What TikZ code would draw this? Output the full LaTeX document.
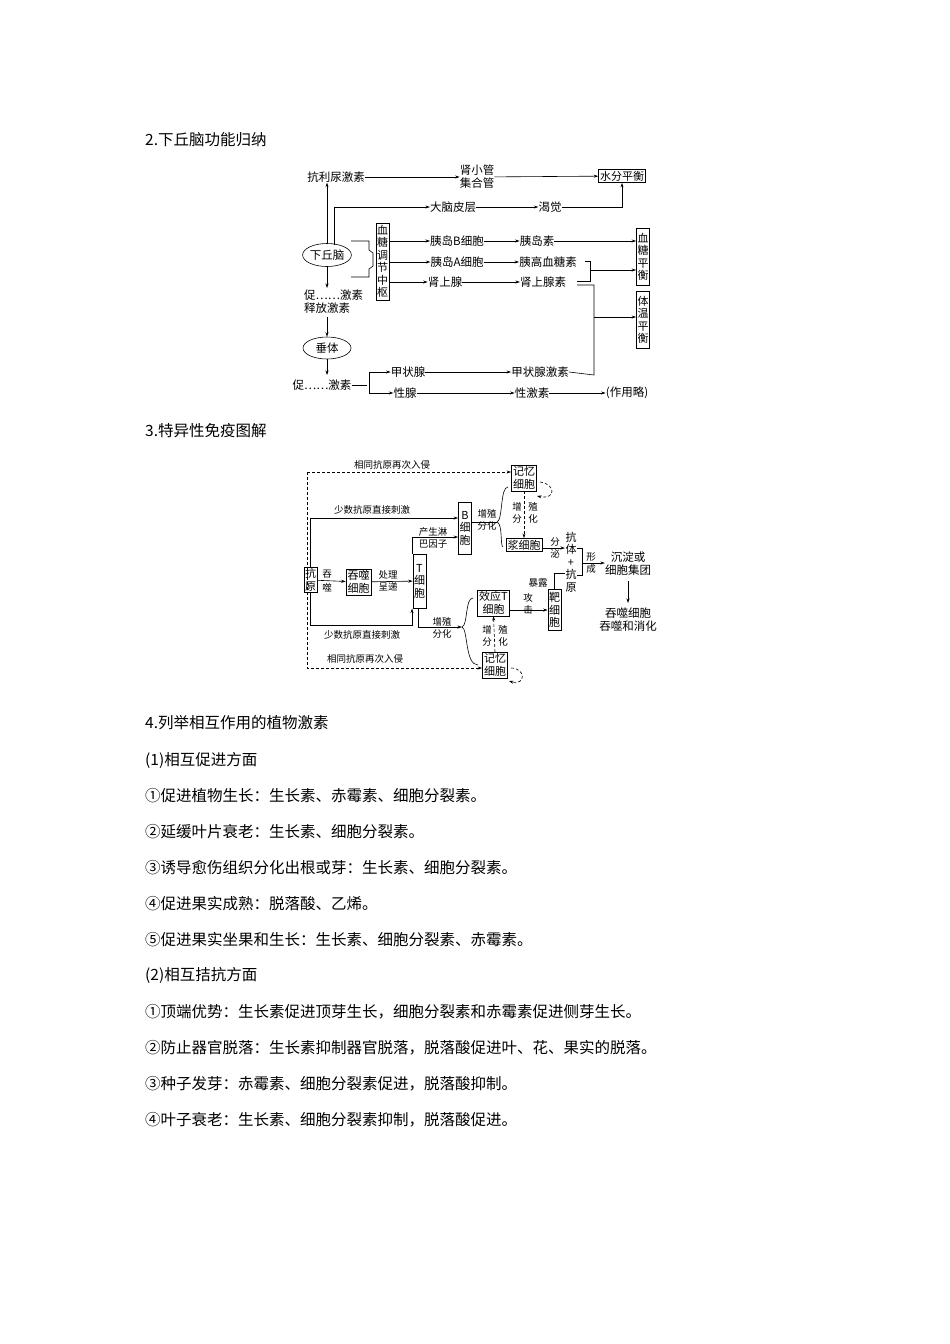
\documentclass[tikz,border=0pt]{standalone}
\usepackage{fontspec}
\setmainfont{Noto Sans CJK SC}
\usetikzlibrary{arrows.meta,shapes.geometric}
\begin{document}
\begin{tikzpicture}[x=1pt,y=-1pt,
  a/.style={-{Stealth[length=4.5pt,width=3pt]},line width=0.6pt},
  l/.style={line width=0.6pt},
  da/.style={a,dashed,dash pattern=on 3pt off 2pt},
  t/.style={inner sep=0pt,font=\fontsize{11.5}{13}\selectfont,align=center},
  s/.style={inner sep=0pt,font=\fontsize{9.5}{11.5}\selectfont,align=center},
  bx/.style={draw,line width=0.6pt,inner sep=1.5pt,font=\fontsize{11}{12.5}\selectfont,align=center},
  body/.style={inner sep=0pt,anchor=west,font=\fontsize{15.5}{18}\selectfont}]
\useasboundingbox (0,0) rectangle (950,1344);
\fill[white] (0,0) rectangle (950,1344);
% headings
\node[body] (h2) at (145,140) {2.下丘脑功能归纳};
\node[body] (h3) at (145,431) {3.特异性免疫图解};
\node[body] (h4) at (145,723) {4.列举相互作用的植物激素};
\node[body] (p1) at (145,760) {(1)相互促进方面};
\node[body] (p2) at (145,796) {①促进植物生长：生长素、赤霉素、细胞分裂素。};
\node[body] (p3) at (145,832) {②延缓叶片衰老：生长素、细胞分裂素。};
\node[body] (p4) at (145,868) {③诱导愈伤组织分化出根或芽：生长素、细胞分裂素。};
\node[body] (p5) at (145,904) {④促进果实成熟：脱落酸、乙烯。};
\node[body] (p6) at (145,940) {⑤促进果实坐果和生长：生长素、细胞分裂素、赤霉素。};
\node[body] (p7) at (145,975) {(2)相互拮抗方面};
\node[body] (p8) at (145,1012) {①顶端优势：生长素促进顶芽生长，细胞分裂素和赤霉素促进侧芽生长。};
\node[body] (p9) at (145,1048) {②防止器官脱落：生长素抑制器官脱落，脱落酸促进叶、花、果实的脱落。};
\node[body] (p10) at (145,1084) {③种子发芽：赤霉素、细胞分裂素促进，脱落酸抑制。};
\node[body] (p11) at (145,1120) {④叶子衰老：生长素、细胞分裂素抑制，脱落酸促进。};

% ===== diagram 1 =====
\node[t] (adh) at (336,177) {抗利尿激素};
\node[t] (sxg) at (477,177) {肾小管\\集合管};
\node[bx] (sfph) at (622,176) {水分平衡};
\node[draw,ellipse,l,t,minimum width=48pt,minimum height=23pt] (xqn) at (327,255) {下丘脑};
\node[t] (dnpc) at (453,207) {大脑皮层};
\node[t] (kj) at (550,207) {渴觉};
\node[bx,minimum height=77pt,inner sep=1pt] (xt) at (382.5,261.5) {血\\糖\\调\\节\\中\\枢};
\node[t] (ydb) at (457,241) {胰岛B细胞};
\node[t] (yda) at (457,262) {胰岛A细胞};
\node[t] (ssx) at (445,282) {肾上腺};
\node[t] (yds) at (537,241) {胰岛素};
\node[t] (ygxts) at (548,262) {胰高血糖素};
\node[t] (ssxs) at (543,282) {肾上腺素};
\node[bx,minimum height=57pt,inner sep=1pt] (xtph) at (643,257) {血\\糖\\平\\衡};
\node[bx,minimum height=57pt,inner sep=1pt] (twph) at (643,320) {体\\温\\平\\衡};
\node[t,align=left,anchor=west] (cjs) at (304,302) {促……激素\\释放激素};
\node[draw,ellipse,l,t,minimum width=48pt,minimum height=22pt] (ct) at (327,348) {垂体};
\node[t] (cjs2) at (322,385) {促……激素};
\node[t] (jzx) at (408,372) {甲状腺};
\node[t] (xx) at (405,393) {性腺};
\node[t] (jzxjs) at (540,372) {甲状腺激素};
\node[t] (xjs) at (532,393) {性激素};
\node[t] (zyl) at (627,393) {(作用略)};

\draw[a] (adh) -- (sxg);
\draw[a] (sxg) -- (sfph);
\draw[a] (327,244) -- (adh.south -| 327,0);
\draw[a] (334,245) |- (dnpc.west);
\draw[a] (dnpc) -- (kj);
\draw[a] (kj.east) -| (sfph.south);
\draw[l] (351,241) -- (369,241) -- (369,250) -- (373,253) -- (373,266) -- (369,269) -- (369,277) -- (351,277);
\draw[a] (xt.east |- ydb) -- (ydb.west);
\draw[a] (xt.east |- yda) -- (yda.west);
\draw[a] (xt.east |- ssx) -- (ssx.west);
\draw[a] (ydb) -- (yds);
\draw[a] (yda) -- (ygxts);
\draw[a] (ssx) -- (ssxs);
\draw[a] (yds) -- (xtph.west |- yds);
\draw[l] (585,261) -- (590,261) -- (590,281) -- (577,281);
\draw[a] (590,270) -- (xtph.west |- 0,270);
\draw[l] (577,285) -- (594,285) -- (594,375) -- (jzxjs.east);
\draw[a] (594,317) -- (twph.west |- 0,317);
\draw[a] (xqn.south) -- (327,288);
\draw[a] (327,317) -- (ct.north);
\draw[a] (ct.south) -- (327,375);
\draw[l] (cjs2.east) -- (367,385);
\draw[a] (369,385) |- (jzx.west);
\draw[a] (369,385) |- (xx.west);
\draw[a] (jzx) -- (jzxjs);
\draw[a] (xx) -- (xjs);
\draw[a] (xjs) -- (zyl);

% ===== diagram 2 =====
\node[bx,inner sep=1pt] (ky) at (310.5,580) {抗\\原};
\node[bx] (tsxb) at (358.5,582) {吞噬\\细胞};
\node[bx,minimum height=54pt,inner sep=1pt] (txb) at (419.5,581) {T\\细\\胞};
\node[bx,minimum height=52pt,inner sep=1pt] (bxb) at (465,528) {B\\细\\胞};
\node[bx] (jy1) at (524,478) {记忆\\细胞};
\node[bx] (jxb) at (524,545) {浆细胞};
\node[bx] (xyt) at (493.5,603) {效应T\\细胞};
\node[bx,minimum height=41pt,inner sep=1pt] (bb) at (554.5,610) {靶\\细\\胞};
\node[bx] (jy2) at (495,665) {记忆\\细胞};
\node[s,font=\fontsize{11}{12.5}\selectfont,inner sep=0pt] (ktky) at (571,562) {抗\\体\\+\\抗\\原};
\node[t] (cd) at (628,564) {沉淀或\\细胞集团};
\node[t] (tsxh) at (628,620) {吞噬细胞\\吞噬和消化};
\coordinate (dtl) at (307,472);
\coordinate (dbl) at (307,668);

\node[s] at (327,581) {吞\\[2pt]噬};
\draw[a] (ky) -- (tsxb);
\node[s] at (388,581) {处理\\呈递};
\draw[a] (tsxb) -- (txb);
\draw[a] (ky.north) |- (bxb.west |- 0,518);
\node[s] at (372,510) {少数抗原直接刺激};
\draw[a] (412,554) |- (bxb.west |- 0,537);
\node[s] at (433,538) {产生淋\\巴因子};
\draw[a] (ky.south) |- (412,625) -- (412,608.5);
\node[s] at (362,635) {少数抗原直接刺激};
\draw[da] (dtl) |- (dbl) -- (jy2.west |- dbl);
\draw[da] (dtl) -- (jy1.west |- dtl);
\node[s] at (392,465) {相同抗原再次入侵};
\node[s] at (365,659) {相同抗原再次入侵};
% B -> brace
\draw[l] (bxb.east |- 0,522) -- (497,522);
\node[s] at (487,520) {增殖\\分化};
\draw[l] (508,487) .. controls (500,487) and (503,520) .. (497,522) .. controls (503,524) and (500,547) .. (503,547);
\draw[da] (jy1.south) -- (jxb.north);
\node[s] at (517,513) {增\\分};
\node[s] at (533,513) {殖\\化};
\draw[da] (540,482) .. controls (556,484) and (556,500) .. (537,496);
\draw[a] (jxb.east |- 0,548) -- (565,548);
\node[s] at (555,548) {分\\泌};
\draw[l] (577,548) -- (582,548) -- (582,575) -- (577,575);
\draw[a] (582,563) -- (cd.west |- 0,563);
\node[s] at (591,563) {形\\成};
\draw[a] (628,581) -- (628,603);
\draw[l] (bb.north) |- (565,573);
\node[s] at (538,583) {暴露};
\draw[a] (xyt.east |- bb) -- (bb.west);
\node[s] at (528,604) {攻\\击};
\draw[a] (418,608.5) |- (462,627);
\node[s] at (442,628) {增殖\\分化};
\draw[l] (473,598) .. controls (465,598) and (468,625) .. (462,627) .. controls (468,629) and (465,665) .. (478,665);
\draw[da] (jy2.north) -- (xyt.south);
\node[s] at (487,636) {增\\分};
\node[s] at (503,636) {殖\\化};
\draw[da] (511,668) .. controls (526,668) and (526,686) .. (509,681);
\end{tikzpicture}
\end{document}
